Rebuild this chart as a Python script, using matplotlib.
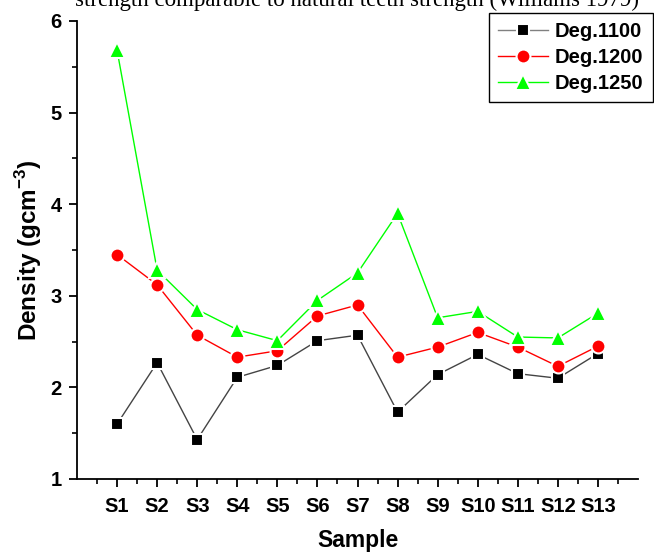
import matplotlib.pyplot as plt
import numpy as np

samples = ["S1", "S2", "S3", "S4", "S5", "S6", "S7", "S8", "S9", "S10", "S11", "S12", "S13"]
deg_1100 = [1.60, 2.27, 1.43, 2.11, 2.24, 2.51, 2.57, 1.73, 2.14, 2.36, 2.15, 2.10, 2.37]
deg_1200 = [3.45, 3.12, 2.57, 2.33, 2.40, 2.78, 2.90, 2.33, 2.44, 2.60, 2.44, 2.23, 2.45]
deg_1250 = [5.68, 3.28, 2.85, 2.63, 2.51, 2.95, 3.25, 3.90, 2.76, 2.83, 2.55, 2.54, 2.81]

plt.rcParams['font.family'] = ['Liberation Sans', 'DejaVu Sans']
plt.rcParams['mathtext.fontset'] = 'custom'
plt.rcParams['mathtext.bf'] = 'Liberation Sans:bold'
plt.rcParams['mathtext.rm'] = 'Liberation Sans:bold'

fig = plt.figure(figsize=(6.54, 5.52), dpi=100)
ax = fig.add_axes([77 / 654, 73 / 552, 561 / 654, 458 / 552])

x = np.arange(1, len(samples) + 1)
ax.plot(x, deg_1100, color='#444444', lw=1.0, marker='s', ms=9,
        mfc='black', mec='white', mew=1.5, label='Deg.1100')
ax.plot(x, deg_1200, color='red', lw=1.0, marker='o', ms=10,
        mfc='red', mec='white', mew=1.5, label='Deg.1200')
ax.plot(x, deg_1250, color='#00ff00', lw=1.0, marker='^', ms=11,
        mfc='#00ff00', mec='white', mew=1.5, label='Deg.1250')

ax.set_xlim(0, 14)
ax.set_ylim(1, 6)
ax.set_xticks(x)
ax.set_xticklabels(samples)
ax.set_xticks(np.arange(0.5, 14, 1.0), minor=True)
ax.set_yticks(range(1, 7))
ax.set_yticks(np.arange(1.5, 6, 1.0), minor=True)

for side in ['top', 'right']:
    ax.spines[side].set_visible(False)
for side in ['left', 'bottom']:
    ax.spines[side].set_linewidth(1.3)

ax.tick_params(which='major', direction='out', length=6, width=1.3,
               labelsize=14.5)
ax.tick_params(axis='x', which='major', pad=7)
ax.tick_params(axis='y', which='major', pad=5)
ax.tick_params(which='minor', direction='out', length=3.5, width=1.2)
for lab in ax.get_xticklabels() + ax.get_yticklabels():
    lab.set_fontweight('bold')

ax.set_xlabel('Sample', fontsize=16.5, fontweight='bold', labelpad=9)
ax.set_ylabel(r'Density (gcm$^{-3}$)', fontsize=17.5, fontweight='bold', labelpad=5)

leg = ax.legend(loc='upper right', bbox_to_anchor=(0.998, 0.976),
                bbox_transform=fig.transFigure, borderaxespad=0,
                prop={'size': 14.5, 'weight': 'bold'}, fancybox=False,
                edgecolor='black', framealpha=1, handlelength=2.5,
                labelspacing=0.35, borderpad=0.45, handletextpad=0.35)
leg.get_frame().set_linewidth(1.0)
leg.get_lines()[0].set_color('#808080')

fig.text(0.115, 0.989, 'strength comparable to natural teeth strength (Williams 1979)',
         family=['Liberation Serif', 'DejaVu Serif'], fontsize=16.5,
         va='baseline', ha='left')

fig.savefig('out.png', dpi=100)
